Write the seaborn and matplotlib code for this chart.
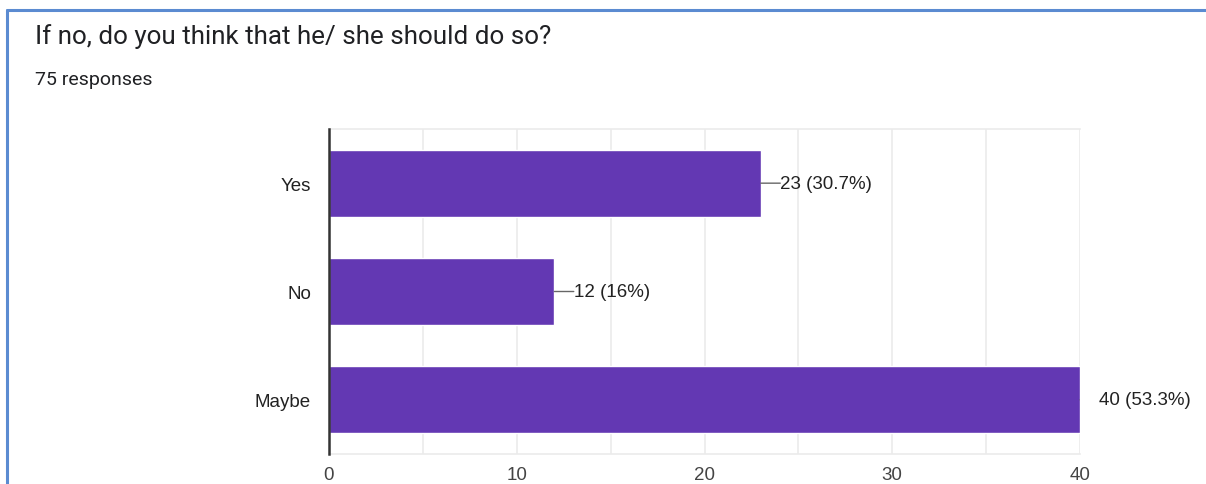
import matplotlib
matplotlib.use("Agg")
import matplotlib.pyplot as plt
import seaborn as sns

# Survey answers and their counts
question = "If no, do you think that he/ she should do so?"
responses_label = "75 responses"
answers = ["Yes", "No", "Maybe"]
counts = [23, 12, 40]
percents = ["30.7%", "16%", "53.3%"]
x_ticks = [0, 10, 20, 30, 40]

BAR_COLOR = "#6338b3"
TEXT_COLOR = "#222222"
GRID_COLOR = "#ebebeb"
FRAME_COLOR = "#5b8bd1"

sns.set_theme(style="white")
plt.rcParams["font.family"] = ["Liberation Sans", "DejaVu Sans"]

fig = plt.figure(figsize=(12.06, 4.85), dpi=100)
fig.patch.set_facecolor("white")

# Card frame (top and left edges)
fig.add_artist(plt.Line2D([6.5 / 1206, 1.0], [1 - 11 / 485, 1 - 11 / 485],
                          transform=fig.transFigure, color=FRAME_COLOR, lw=2.2))
fig.add_artist(plt.Line2D([6.5 / 1206, 6.5 / 1206], [0.0, 1 - 11 / 485],
                          transform=fig.transFigure, color=FRAME_COLOR, lw=2.2))

fig.text(35 / 1206, 1 - 44 / 485, question, fontsize=18.7, color="#202124",
         family=["Roboto", "DejaVu Sans"], va="baseline", ha="left")
fig.text(35 / 1206, 1 - 85 / 485, responses_label, fontsize=14, color="#202124",
         family=["Roboto", "DejaVu Sans"], va="baseline", ha="left")

left, right = 329 / 1206, 1080 / 1206
top, bottom = 1 - 130 / 485, 1 - 455 / 485
ax = fig.add_axes([left, bottom, right - left, top - bottom])

sns.barplot(x=counts, y=answers, orient="h", color=BAR_COLOR, width=0.62,
            saturation=1, ax=ax, zorder=3)

ax.set_xlim(0, 40)
ax.set_ylim(2.5, -0.5)
ax.set_xticks(x_ticks)
ax.set_xticks(range(0, 41, 5), minor=True)
ax.grid(axis="x", which="both", color=GRID_COLOR, lw=1.2, zorder=0)
ax.grid(axis="y", visible=False)
ax.set_xlabel("")
ax.set_ylabel("")

for side in ["top", "right", "bottom"]:
    ax.spines[side].set_color(GRID_COLOR)
    ax.spines[side].set_linewidth(1.2)
ax.spines["right"].set_visible(False)
ax.spines["left"].set_color("#333333")
ax.spines["left"].set_linewidth(1.8)
ax.spines["left"].set_zorder(5)

ax.tick_params(axis="x", which="both", length=0, pad=9, labelsize=13.5, labelcolor="#444444")
ax.tick_params(axis="y", length=0, pad=13, labelsize=13.5, labelcolor=TEXT_COLOR)

# Value labels with short leader lines (leaders are clipped to the plot area)
for i, (c, p) in enumerate(zip(counts, percents)):
    leader = ax.annotate("", xy=(c, i), xytext=(14, 0), textcoords="offset points",
                         arrowprops=dict(arrowstyle="-", color="#666666", lw=1.0,
                                         shrinkA=0, shrinkB=0), zorder=4)
    leader.arrow_patch.set_clip_box(ax.bbox)
    leader.arrow_patch.set_clip_on(True)
    ax.annotate(f"{c} ({p})", xy=(c, i), xytext=(14, 0), textcoords="offset points",
                ha="left", va="center", fontsize=13.5, color=TEXT_COLOR, zorder=4)

fig.savefig("out.png", dpi=100, facecolor="white")
